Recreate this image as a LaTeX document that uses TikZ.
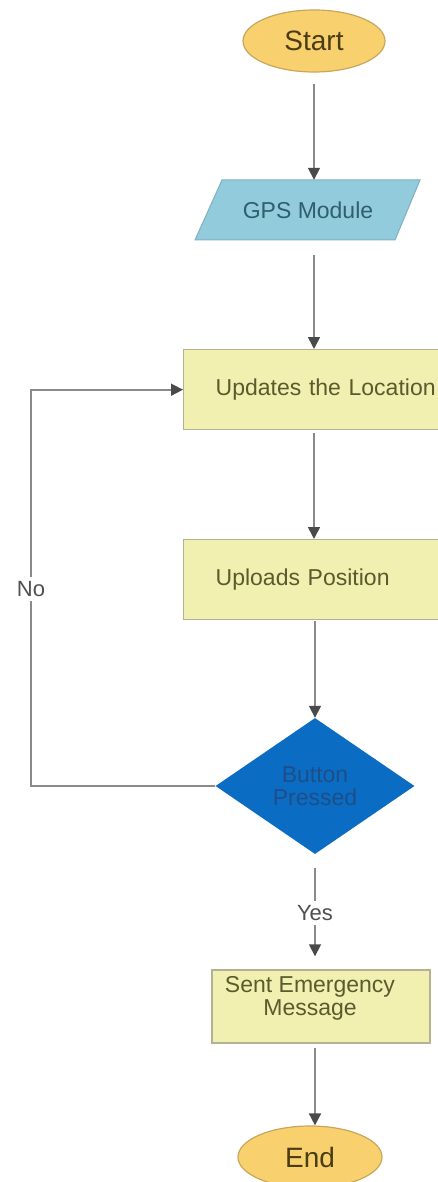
\documentclass[tikz,border=0pt]{standalone}
\usepackage{fontspec}
\setmainfont{Liberation Sans}
\usetikzlibrary{shapes.geometric,arrows.meta}

\definecolor{termfill}{HTML}{F8D06E}
\definecolor{termline}{HTML}{C8A75C}
\definecolor{termtext}{HTML}{4A3C14}
\definecolor{boxfill}{HTML}{F2F0B0}
\definecolor{boxline}{HTML}{B4B290}
\definecolor{boxtext}{HTML}{5A5A2E}
\definecolor{gpsfill}{HTML}{92CBDC}
\definecolor{gpsline}{HTML}{7FB0C0}
\definecolor{gpstext}{HTML}{2F5E6E}
\definecolor{decfill}{HTML}{0B6CC4}
\definecolor{dectext}{HTML}{1D4E88}
\definecolor{flowline}{HTML}{8A8A8A}
\definecolor{tipgray}{HTML}{4A4A4A}
\definecolor{lbltext}{HTML}{505050}

\newcommand{\bodyfont}{\fontsize{23}{23}\selectfont}
\newcommand{\termfont}{\fontsize{28}{30}\selectfont}

\begin{document}
\begin{tikzpicture}[x=1pt,y=-1pt,
  term/.style={ellipse, fill=termfill, draw=termline, line width=1.2pt,
    minimum width=142pt, minimum height=62pt, inner sep=0pt,
    text=termtext, font=\termfont},
  stepbox/.style={rectangle, fill=boxfill, draw=boxline, line width=1.4pt,
    inner xsep=32pt, inner ysep=0pt, text width=230pt, align=left,
    minimum height=80pt, text=boxtext, font=\bodyfont},
  decision/.style={diamond, fill=decfill, aspect=1.463, inner sep=0pt,
    minimum width=199pt, minimum height=136pt, align=center,
    text=dectext, font=\bodyfont},
  lbl/.style={fill=white, inner xsep=2pt, inner ysep=4pt,
    text=lbltext, font=\fontsize{22}{24}\selectfont},
  flow/.style={draw=flowline, line width=1.7pt,
    -{Triangle[length=12pt,width=12pt,color=tipgray]}},
  plain/.style={draw=flowline, line width=1.7pt}]

\useasboundingbox (0,0) rectangle (438,1182);
\clip (0,0) rectangle (438,1182);

% terminals, steps and the decision
\node[term] (start) at (314,41) {Start};

\fill[gpsfill, draw=gpsline, line width=1pt]
  (222,180) -- (420,180) -- (395,240) -- (195,240) -- cycle;
\node[inner sep=0pt, minimum width=200pt, minimum height=60pt,
  text=gpstext, font=\bodyfont] (gps) at (308,210) {GPS Module};

\node[stepbox, anchor=north west] (upd) at (183,349) {Updates the Location};
\node[stepbox, anchor=north west] (upl) at (183,539) {Uploads Position};

\node[decision] (btn) at (315,786) {Button\\Pressed};

\node[rectangle, fill=boxfill, draw=boxline, line width=1.4pt,
  minimum width=218pt, minimum height=73pt] (sent) at (321,1006.5) {};
\node[align=center, text=boxtext, font=\bodyfont, inner sep=0pt]
  (senttxt) at (310,998) {Sent Emergency\\Message};

\node[term, minimum width=144pt] (end) at (310,1157) {End};

% edge labels
\node[lbl] (yes) at (315,913) {Yes};
\node[lbl] (no) at (31,589) {No};

% connectors
\draw[flow, shorten <=11pt] (start.south) -- (start.south |- gps.north);
\draw[flow, shorten <=15pt] (start.south |- gps.south) -- (start.south |- upd.north);
\draw[flow, shorten <=3pt] (start.south |- upd.south) -- (start.south |- upl.north);
\draw[flow, shorten <=1pt] (btn.north |- upl.south) -- (btn.north);
\draw[plain, shorten <=14pt] (btn.south) -- (yes.north);
\draw[flow, shorten >=13pt] (yes.south) -- (yes.south |- sent.north);
\draw[flow, shorten <=4pt] (yes |- sent.south) -- (yes |- end.north);
\draw[plain] (btn.west) -| (no.south);
\draw[flow] (no.north) |- (upd.west);

\end{tikzpicture}
\end{document}
